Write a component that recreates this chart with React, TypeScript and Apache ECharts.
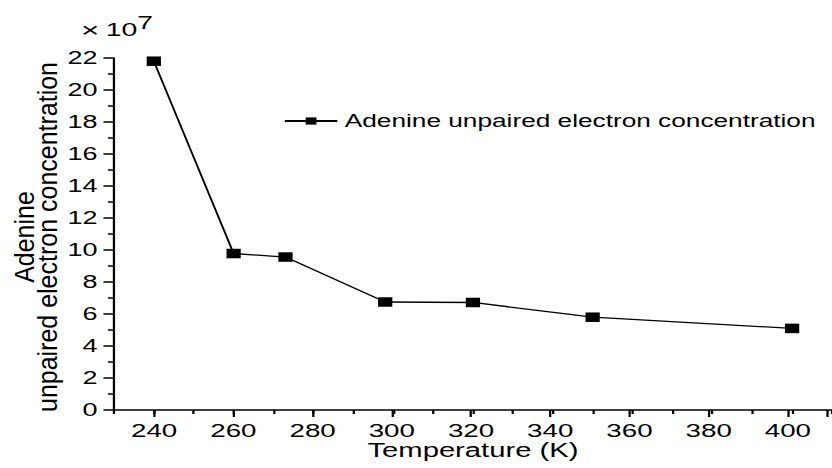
import React, { useEffect, useRef } from "react";
import * as echarts from "echarts";

const temperatures = [240, 260, 273, 298, 320, 350, 400];
const concentration = [21.8, 9.78, 9.56, 6.75, 6.72, 5.8, 5.1];
const seriesName = "Adenine unpaired electron concentration";
const xTitle = "Temperature (K)";
const yTitle = "Adenine\nunpaired electron concentration";
const xMin = 230;
const xMax = 410;
const xLabelStart = 240;

const FONT = "'Liberation Sans', Arial, sans-serif";
const W = 555;
const S = 832 / W;

export default function App() {
  const ref = useRef<HTMLDivElement>(null);
  useEffect(() => {
    if (!ref.current) return;
    const chart = echarts.init(ref.current, undefined, { renderer: "svg" });
    const gl = 76;
    const gw = 483;
    const perUnit = gw / (xMax - xMin);
    const axisLine = { show: true, lineStyle: { color: "#000", width: 1.5 } };
    chart.setOption({
      animation: false,
      backgroundColor: "#fff",
      grid: [
        { left: gl, top: 58, width: gw, height: 352 },
        { left: gl + perUnit * (xLabelStart - xMin), top: 58, width: perUnit * (xMax - xLabelStart), height: 352 },
      ],
      legend: {
        data: [seriesName],
        left: 189,
        top: 112,
        padding: 0,
        itemWidth: 35,
        itemHeight: 9,
        textStyle: { fontSize: 17.5, color: "#000", fontFamily: FONT },
      },
      xAxis: [
        {
          gridIndex: 0,
          type: "value",
          min: xMin,
          max: xMax,
          interval: 10,
          axisLine,
          axisTick: { show: true, inside: false, length: 4, lineStyle: { color: "#000", width: 1.5 } },
          axisLabel: { show: false },
          splitLine: { show: false },
          name: xTitle,
          nameLocation: "middle",
          nameGap: 30,
          nameTextStyle: { fontSize: 19.5, color: "#000", fontFamily: FONT },
        },
        {
          gridIndex: 1,
          type: "value",
          min: xLabelStart,
          max: xMax,
          interval: 20,
          axisLine: { show: false },
          axisTick: { show: true, inside: false, length: 7, lineStyle: { color: "#000", width: 1.5 } },
          axisLabel: {
            show: true,
            margin: 11,
            fontSize: 18.5,
            color: "#000",
            fontFamily: FONT,
            formatter: (v: number) => (v > 400 ? "" : String(v)),
          },
          splitLine: { show: false },
        },
      ],
      yAxis: [
        {
          gridIndex: 0,
          type: "value",
          min: 0,
          max: 22,
          interval: 2,
          axisLine,
          axisTick: { show: true, inside: false, length: 7, lineStyle: { color: "#000", width: 1.5 } },
          minorTick: { show: true, splitNumber: 2, length: 4, lineStyle: { color: "#000", width: 1.5 } },
          axisLabel: { margin: 11, fontSize: 18, color: "#000", fontFamily: FONT },
          splitLine: { show: false },
          minorSplitLine: { show: false },
        },
        { gridIndex: 1, type: "value", min: 0, max: 22, show: false },
      ],
      series: [
        {
          name: seriesName,
          type: "line",
          xAxisIndex: 0,
          yAxisIndex: 0,
          data: temperatures.map((t, i) => [t, concentration[i]]),
          symbol: "rect",
          symbolSize: 9.5,
          itemStyle: { color: "#000" },
          lineStyle: { color: "#000", width: 1.3 },
        },
      ],
      graphic: [
        {
          type: "text",
          x: 54,
          y: 30,
          style: { text: "×", fontSize: 21, fill: "#000", fontFamily: FONT, textAlign: "left", textVerticalAlign: "middle" },
        },
        {
          type: "text",
          x: 70.5,
          y: 29,
          style: { text: "10", fontSize: 19, fill: "#000", fontFamily: FONT, textAlign: "left", textVerticalAlign: "middle" },
        },
        {
          type: "text",
          x: 91.5,
          y: 22,
          style: { text: "7", fontSize: 19, fill: "#000", fontFamily: FONT, textAlign: "left", textVerticalAlign: "middle" },
        },
        {
          type: "text",
          x: 24,
          y: 237,
          rotation: Math.PI / 2,
          scaleY: 0.76,
          style: {
            text: yTitle,
            fontSize: 25,
            lineHeight: 20.6,
            fill: "#000",
            fontFamily: FONT,
            textAlign: "center",
            textVerticalAlign: "middle",
          },
        },
      ],
    });
    return () => chart.dispose();
  }, []);
  return (
    <div style={{ position: "fixed", left: 0, top: 0, width: 832, height: 468, overflow: "hidden", background: "#fff" }}>
      <div
        ref={ref}
        style={{ width: W, height: 468, transform: `scaleX(${S})`, transformOrigin: "0 0" }}
      />
    </div>
  );
}
